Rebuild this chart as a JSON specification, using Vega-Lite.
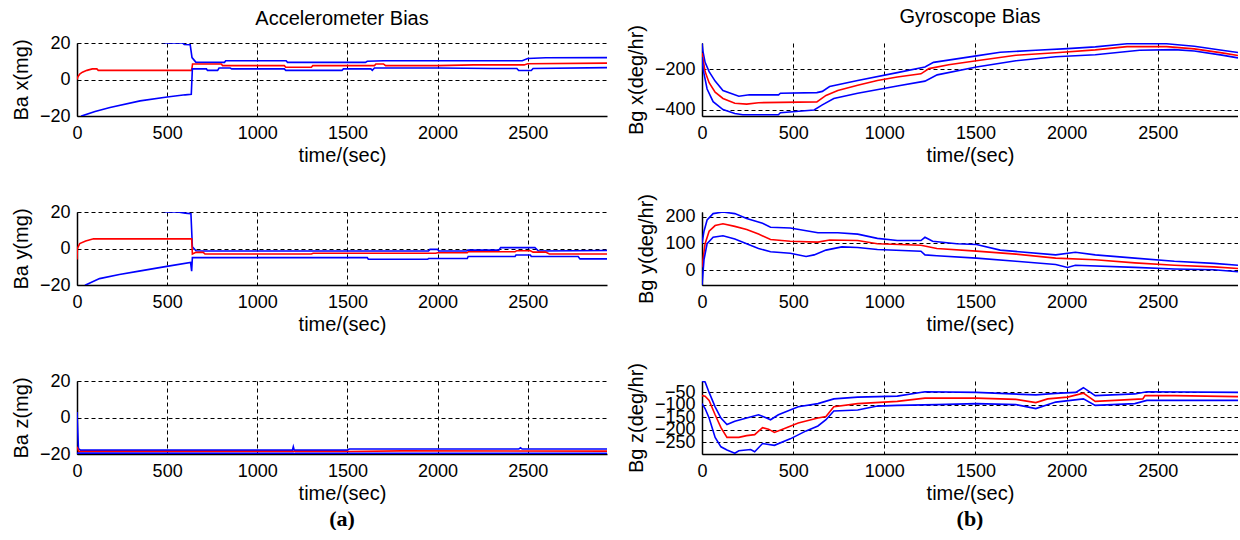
{
  "$schema": "https://vega.github.io/schema/vega-lite/v6.json",
  "background": "white",
  "padding": {"left": 11, "top": 7, "right": 0, "bottom": 0},
  "columns": 2,
  "bounds": "flush",
  "spacing": {"row": 96, "column": 95},
  "config": {
    "view": {"stroke": null},
    "font": "Liberation Sans",
    "title": {"font": "Liberation Sans", "fontSize": 20, "fontWeight": "normal", "color": "#000", "anchor": "middle"},
    "axis": {
      "labelFont": "Liberation Sans", "labelFontSize": 18, "labelColor": "#000",
      "titleFont": "Liberation Sans", "titleFontSize": 20, "titleFontWeight": "normal", "titleColor": "#000",
      "grid": true, "gridColor": "#000", "gridDash": [4, 3], "gridWidth": 1, "gridOpacity": 1,
      "domainColor": "#000", "domainWidth": 1.5, "ticks": false, "format": "d",
      "labelOverlap": false, "labelBound": false, "labelFlush": false
    },
    "axisX": {"labelPadding": 8, "titlePadding": 3},
    "axisY": {"labelPadding": 7, "titlePadding": 8}
  },
  "concat": [
    {
      "width": 530, "height": 73,
      "title": {"text": "Accelerometer Bias", "anchor": "middle", "offset": 5},
      "data": {"values": [
        {"s":"u","t":0,"v":42},{"s":"u","t":30,"v":31},{"s":"u","t":180,"v":26},{"s":"u","t":350,"v":22},{"s":"u","t":500,"v":20},{"s":"u","t":585,"v":20},{"s":"u","t":595,"v":19.2},{"s":"u","t":628,"v":19},{"s":"u","t":638,"v":12},{"s":"u","t":660,"v":9.4},{"s":"u","t":818,"v":9.4},{"s":"u","t":825,"v":10.3},{"s":"u","t":1160,"v":10.3},{"s":"u","t":1168,"v":9.4},{"s":"u","t":1600,"v":9.4},{"s":"u","t":1610,"v":10},{"s":"u","t":1700,"v":10.3},{"s":"u","t":2470,"v":10.3},{"s":"u","t":2500,"v":11.5},{"s":"u","t":2600,"v":11.9},{"s":"u","t":2940,"v":12},
        {"s":"e","t":0,"v":0},{"s":"e","t":5,"v":1.5},{"s":"e","t":15,"v":3},{"s":"e","t":30,"v":4},{"s":"e","t":55,"v":5},{"s":"e","t":85,"v":5.8},{"s":"e","t":110,"v":5.8},{"s":"e","t":118,"v":5},{"s":"e","t":636,"v":5},{"s":"e","t":641,"v":8.5},{"s":"e","t":800,"v":8.5},{"s":"e","t":808,"v":7.6},{"s":"e","t":1150,"v":7.6},{"s":"e","t":1158,"v":6.7},{"s":"e","t":1300,"v":6.7},{"s":"e","t":1308,"v":7.6},{"s":"e","t":1650,"v":7.6},{"s":"e","t":1658,"v":8.5},{"s":"e","t":1700,"v":8.5},{"s":"e","t":1712,"v":7.6},{"s":"e","t":2000,"v":7.6},{"s":"e","t":2200,"v":8},{"s":"e","t":2480,"v":8},{"s":"e","t":2500,"v":8.6},{"s":"e","t":2940,"v":9},
        {"s":"l","t":0,"v":-24},{"s":"l","t":26,"v":-20},{"s":"l","t":100,"v":-17.5},{"s":"l","t":183,"v":-15.3},{"s":"l","t":350,"v":-11.7},{"s":"l","t":500,"v":-9.6},{"s":"l","t":600,"v":-8.4},{"s":"l","t":634,"v":-8.1},{"s":"l","t":640,"v":5.8},{"s":"l","t":718,"v":5.8},{"s":"l","t":724,"v":5},{"s":"l","t":780,"v":5},{"s":"l","t":788,"v":6.3},{"s":"l","t":850,"v":6.3},{"s":"l","t":858,"v":5.8},{"s":"l","t":1150,"v":5.8},{"s":"l","t":1158,"v":5},{"s":"l","t":1470,"v":5},{"s":"l","t":1478,"v":5.8},{"s":"l","t":1630,"v":5.8},{"s":"l","t":1638,"v":5},{"s":"l","t":1650,"v":6.3},{"s":"l","t":2000,"v":6.3},{"s":"l","t":2300,"v":6},{"s":"l","t":2440,"v":6},{"s":"l","t":2450,"v":4.9},{"s":"l","t":2520,"v":4.9},{"s":"l","t":2530,"v":6},{"s":"l","t":2940,"v":6.5}
      ]},
      "mark": {"type": "line", "strokeWidth": 1.6, "clip": true},
      "encoding": {
        "x": {"field": "t", "type": "quantitative", "scale": {"domain": [0, 2940], "nice": false, "zero": false}, "axis": {"values": [0, 500, 1000, 1500, 2000, 2500], "title": "time/(sec)"}},
        "y": {"field": "v", "type": "quantitative", "scale": {"domain": [-20, 20], "nice": false, "zero": false}, "axis": {"values": [-20, 0, 20], "title": "Ba x(mg)"}},
        "color": {"field": "s", "type": "nominal", "scale": {"domain": ["u", "e", "l"], "range": ["#0000ff", "#ff0000", "#0000ff"]}, "legend": null}
      }
    },
    {
      "width": 536, "height": 73,
      "title": {"text": "Gyroscope Bias", "anchor": "middle", "offset": -3},
      "data": {"values": [
        {"s":"u","t":0,"v":-72},{"s":"u","t":5,"v":-110},{"s":"u","t":17,"v":-166},{"s":"u","t":39,"v":-212},{"s":"u","t":72,"v":-259},{"s":"u","t":115,"v":-306},{"s":"u","t":202,"v":-334},{"s":"u","t":260,"v":-327},{"s":"u","t":420,"v":-327},{"s":"u","t":430,"v":-319},{"s":"u","t":630,"v":-316},{"s":"u","t":660,"v":-310},{"s":"u","t":700,"v":-286},{"s":"u","t":854,"v":-256},{"s":"u","t":1071,"v":-217},{"s":"u","t":1223,"v":-189},{"s":"u","t":1270,"v":-166},{"s":"u","t":1505,"v":-134},{"s":"u","t":1636,"v":-116},{"s":"u","t":1831,"v":-106},{"s":"u","t":2005,"v":-98},{"s":"u","t":2157,"v":-89},{"s":"u","t":2331,"v":-74},{"s":"u","t":2548,"v":-74},{"s":"u","t":2700,"v":-86},{"s":"u","t":2852,"v":-106},{"s":"u","t":2940,"v":-117},
        {"s":"e","t":0,"v":-120},{"s":"e","t":17,"v":-212},{"s":"e","t":39,"v":-267},{"s":"e","t":72,"v":-314},{"s":"e","t":115,"v":-345},{"s":"e","t":180,"v":-369},{"s":"e","t":245,"v":-373},{"s":"e","t":310,"v":-366},{"s":"e","t":630,"v":-362},{"s":"e","t":680,"v":-330},{"s":"e","t":745,"v":-306},{"s":"e","t":854,"v":-280},{"s":"e","t":962,"v":-256},{"s":"e","t":1071,"v":-239},{"s":"e","t":1201,"v":-223},{"s":"e","t":1245,"v":-197},{"s":"e","t":1353,"v":-178},{"s":"e","t":1505,"v":-158},{"s":"e","t":1722,"v":-131},{"s":"e","t":1940,"v":-118},{"s":"e","t":2157,"v":-104},{"s":"e","t":2331,"v":-88},{"s":"e","t":2548,"v":-88},{"s":"e","t":2700,"v":-99},{"s":"e","t":2852,"v":-119},{"s":"e","t":2940,"v":-132},
        {"s":"l","t":0,"v":-140},{"s":"l","t":7,"v":-205},{"s":"l","t":28,"v":-298},{"s":"l","t":61,"v":-361},{"s":"l","t":115,"v":-400},{"s":"l","t":180,"v":-420},{"s":"l","t":224,"v":-426},{"s":"l","t":419,"v":-426},{"s":"l","t":430,"v":-416},{"s":"l","t":615,"v":-402},{"s":"l","t":660,"v":-377},{"s":"l","t":723,"v":-345},{"s":"l","t":854,"v":-319},{"s":"l","t":1071,"v":-283},{"s":"l","t":1223,"v":-259},{"s":"l","t":1290,"v":-228},{"s":"l","t":1505,"v":-189},{"s":"l","t":1722,"v":-158},{"s":"l","t":1940,"v":-138},{"s":"l","t":2157,"v":-128},{"s":"l","t":2400,"v":-106},{"s":"l","t":2591,"v":-103},{"s":"l","t":2700,"v":-110},{"s":"l","t":2852,"v":-130},{"s":"l","t":2940,"v":-144}
      ]},
      "mark": {"type": "line", "strokeWidth": 1.6, "clip": true},
      "encoding": {
        "x": {"field": "t", "type": "quantitative", "scale": {"domain": [0, 2940], "nice": false, "zero": false}, "axis": {"values": [0, 500, 1000, 1500, 2000, 2500], "title": "time/(sec)"}},
        "y": {"field": "v", "type": "quantitative", "scale": {"domain": [-432, -70], "nice": false, "zero": false}, "axis": {"values": [-400, -200], "title": "Bg x(deg/hr)"}},
        "color": {"field": "s", "type": "nominal", "scale": {"domain": ["u", "e", "l"], "range": ["#0000ff", "#ff0000", "#0000ff"]}, "legend": null}
      }
    },
    {
      "width": 530, "height": 73,
      "data": {"values": [
        {"s":"u","t":0,"v":40},{"s":"u","t":100,"v":28},{"s":"u","t":300,"v":23},{"s":"u","t":500,"v":20},{"s":"u","t":560,"v":20},{"s":"u","t":600,"v":19.4},{"s":"u","t":632,"v":19},{"s":"u","t":640,"v":1},{"s":"u","t":660,"v":-1.2},{"s":"u","t":700,"v":-1.4},{"s":"u","t":1950,"v":-1.4},{"s":"u","t":1958,"v":-0.5},{"s":"u","t":2000,"v":-0.5},{"s":"u","t":2008,"v":-1.4},{"s":"u","t":2160,"v":-1.4},{"s":"u","t":2168,"v":-0.9},{"s":"u","t":2340,"v":-0.9},{"s":"u","t":2350,"v":0.5},{"s":"u","t":2540,"v":0.5},{"s":"u","t":2560,"v":-1.4},{"s":"u","t":2940,"v":-1.1},
        {"s":"e","t":0,"v":-6},{"s":"e","t":2,"v":0},{"s":"e","t":15,"v":2.7},{"s":"e","t":48,"v":4.1},{"s":"e","t":92,"v":5.3},{"s":"e","t":636,"v":5.3},{"s":"e","t":640,"v":-3},{"s":"e","t":660,"v":-2.1},{"s":"e","t":700,"v":-2.1},{"s":"e","t":710,"v":-3},{"s":"e","t":1300,"v":-3},{"s":"e","t":1310,"v":-2.6},{"s":"e","t":1990,"v":-2.6},{"s":"e","t":2000,"v":-2.3},{"s":"e","t":2165,"v":-2.3},{"s":"e","t":2170,"v":-1.8},{"s":"e","t":2430,"v":-1.8},{"s":"e","t":2440,"v":-1.2},{"s":"e","t":2515,"v":-1.2},{"s":"e","t":2530,"v":-2},{"s":"e","t":2600,"v":-2},{"s":"e","t":2620,"v":-3},{"s":"e","t":2940,"v":-3},
        {"s":"l","t":0,"v":-24},{"s":"l","t":48,"v":-20},{"s":"l","t":125,"v":-16.5},{"s":"l","t":235,"v":-14.2},{"s":"l","t":344,"v":-12.4},{"s":"l","t":498,"v":-9.8},{"s":"l","t":630,"v":-7.6},{"s":"l","t":636,"v":-12.4},{"s":"l","t":640,"v":-5},{"s":"l","t":1610,"v":-5},{"s":"l","t":1616,"v":-5.9},{"s":"l","t":1945,"v":-5.9},{"s":"l","t":1950,"v":-5.5},{"s":"l","t":2165,"v":-5.5},{"s":"l","t":2170,"v":-4.4},{"s":"l","t":2430,"v":-4.4},{"s":"l","t":2435,"v":-3.6},{"s":"l","t":2515,"v":-3.6},{"s":"l","t":2520,"v":-4.4},{"s":"l","t":2780,"v":-4.4},{"s":"l","t":2790,"v":-5.7},{"s":"l","t":2940,"v":-5.7}
      ]},
      "mark": {"type": "line", "strokeWidth": 1.6, "clip": true},
      "encoding": {
        "x": {"field": "t", "type": "quantitative", "scale": {"domain": [0, 2940], "nice": false, "zero": false}, "axis": {"values": [0, 500, 1000, 1500, 2000, 2500], "title": "time/(sec)"}},
        "y": {"field": "v", "type": "quantitative", "scale": {"domain": [-20, 20], "nice": false, "zero": false}, "axis": {"values": [-20, 0, 20], "title": "Ba y(mg)"}},
        "color": {"field": "s", "type": "nominal", "scale": {"domain": ["u", "e", "l"], "range": ["#0000ff", "#ff0000", "#0000ff"]}, "legend": null}
      }
    },
    {
      "width": 536, "height": 73,
      "data": {"values": [
        {"s":"u","t":0,"v":100},{"s":"u","t":11,"v":146},{"s":"u","t":28,"v":188},{"s":"u","t":61,"v":212},{"s":"u","t":115,"v":218},{"s":"u","t":180,"v":212},{"s":"u","t":245,"v":194},{"s":"u","t":332,"v":176},{"s":"u","t":376,"v":161},{"s":"u","t":484,"v":158},{"s":"u","t":636,"v":140},{"s":"u","t":745,"v":140},{"s":"u","t":854,"v":135},{"s":"u","t":962,"v":119},{"s":"u","t":1071,"v":111},{"s":"u","t":1201,"v":111},{"s":"u","t":1223,"v":123},{"s":"u","t":1265,"v":108},{"s":"u","t":1397,"v":99},{"s":"u","t":1505,"v":96},{"s":"u","t":1636,"v":75},{"s":"u","t":1940,"v":57},{"s":"u","t":2048,"v":67},{"s":"u","t":2157,"v":57},{"s":"u","t":2374,"v":45},{"s":"u","t":2591,"v":33},{"s":"u","t":2808,"v":25},{"s":"u","t":2940,"v":18},
        {"s":"e","t":0,"v":10},{"s":"e","t":17,"v":99},{"s":"e","t":39,"v":146},{"s":"e","t":72,"v":167},{"s":"e","t":115,"v":174},{"s":"e","t":180,"v":164},{"s":"e","t":245,"v":152},{"s":"e","t":310,"v":135},{"s":"e","t":376,"v":115},{"s":"e","t":484,"v":108},{"s":"e","t":636,"v":105},{"s":"e","t":700,"v":113},{"s":"e","t":854,"v":111},{"s":"e","t":962,"v":99},{"s":"e","t":1201,"v":93},{"s":"e","t":1288,"v":81},{"s":"e","t":1505,"v":71},{"s":"e","t":1722,"v":60},{"s":"e","t":1940,"v":45},{"s":"e","t":2157,"v":39},{"s":"e","t":2374,"v":27},{"s":"e","t":2591,"v":18},{"s":"e","t":2808,"v":12},{"s":"e","t":2940,"v":6},
        {"s":"l","t":0,"v":-56},{"s":"l","t":11,"v":39},{"s":"l","t":28,"v":99},{"s":"l","t":61,"v":123},{"s":"l","t":115,"v":129},{"s":"l","t":180,"v":117},{"s":"l","t":245,"v":99},{"s":"l","t":310,"v":81},{"s":"l","t":376,"v":69},{"s":"l","t":484,"v":63},{"s":"l","t":571,"v":51},{"s":"l","t":615,"v":57},{"s":"l","t":680,"v":75},{"s":"l","t":767,"v":87},{"s":"l","t":854,"v":85},{"s":"l","t":962,"v":77},{"s":"l","t":1201,"v":71},{"s":"l","t":1223,"v":57},{"s":"l","t":1288,"v":54},{"s":"l","t":1505,"v":45},{"s":"l","t":1722,"v":33},{"s":"l","t":1940,"v":21},{"s":"l","t":2005,"v":10},{"s":"l","t":2048,"v":18},{"s":"l","t":2374,"v":10},{"s":"l","t":2591,"v":4},{"s":"l","t":2808,"v":1},{"s":"l","t":2940,"v":-6}
      ]},
      "mark": {"type": "line", "strokeWidth": 1.6, "clip": true},
      "encoding": {
        "x": {"field": "t", "type": "quantitative", "scale": {"domain": [0, 2940], "nice": false, "zero": false}, "axis": {"values": [0, 500, 1000, 1500, 2000, 2500], "title": "time/(sec)"}},
        "y": {"field": "v", "type": "quantitative", "scale": {"domain": [-56, 218], "nice": false, "zero": false}, "axis": {"values": [0, 100, 200], "title": "Bg y(deg/hr)"}},
        "color": {"field": "s", "type": "nominal", "scale": {"domain": ["u", "e", "l"], "range": ["#0000ff", "#ff0000", "#0000ff"]}, "legend": null}
      }
    },
    {
      "width": 530, "height": 73,
      "title": {"text": "(a)", "orient": "bottom", "anchor": "middle", "font": "Liberation Serif", "fontWeight": "bold", "fontSize": 22, "offset": 6},
      "data": {"values": [
        {"s":"u","t":0,"v":3},{"s":"u","t":8,"v":-17},{"s":"u","t":20,"v":-17.9},{"s":"u","t":1195,"v":-17.9},{"s":"u","t":1200,"v":-16},{"s":"u","t":1205,"v":-17.9},{"s":"u","t":1500,"v":-17.9},{"s":"u","t":1510,"v":-17.3},{"s":"u","t":2450,"v":-17.3},{"s":"u","t":2460,"v":-16.6},{"s":"u","t":2470,"v":-17.3},{"s":"u","t":2940,"v":-17.3},
        {"s":"e","t":0,"v":-16},{"s":"e","t":10,"v":-18.6},{"s":"e","t":1500,"v":-18.6},{"s":"e","t":1800,"v":-18.3},{"s":"e","t":2940,"v":-18.4},
        {"s":"l","t":0,"v":-19.5},{"s":"l","t":1200,"v":-19.6},{"s":"l","t":1205,"v":-20.5},{"s":"l","t":1210,"v":-19.6},{"s":"l","t":2940,"v":-19.6}
      ]},
      "mark": {"type": "line", "strokeWidth": 1.6, "clip": true},
      "encoding": {
        "x": {"field": "t", "type": "quantitative", "scale": {"domain": [0, 2940], "nice": false, "zero": false}, "axis": {"values": [0, 500, 1000, 1500, 2000, 2500], "title": "time/(sec)"}},
        "y": {"field": "v", "type": "quantitative", "scale": {"domain": [-20, 20], "nice": false, "zero": false}, "axis": {"values": [-20, 0, 20], "title": "Ba z(mg)"}},
        "color": {"field": "s", "type": "nominal", "scale": {"domain": ["u", "e", "l"], "range": ["#0000ff", "#ff0000", "#0000ff"]}, "legend": null}
      }
    },
    {
      "width": 536, "height": 73,
      "title": {"text": "(b)", "orient": "bottom", "anchor": "middle", "font": "Liberation Serif", "fontWeight": "bold", "fontSize": 22, "offset": 6},
      "data": {"values": [
        {"s":"u","t":0,"v":-5},{"s":"u","t":17,"v":-8},{"s":"u","t":39,"v":-50},{"s":"u","t":72,"v":-108},{"s":"u","t":104,"v":-153},{"s":"u","t":137,"v":-179},{"s":"u","t":180,"v":-166},{"s":"u","t":245,"v":-153},{"s":"u","t":310,"v":-140},{"s":"u","t":354,"v":-153},{"s":"u","t":376,"v":-160},{"s":"u","t":419,"v":-140},{"s":"u","t":528,"v":-108},{"s":"u","t":636,"v":-95},{"s":"u","t":723,"v":-76},{"s":"u","t":854,"v":-69},{"s":"u","t":1071,"v":-65},{"s":"u","t":1223,"v":-47},{"s":"u","t":1505,"v":-50},{"s":"u","t":1831,"v":-60},{"s":"u","t":1940,"v":-54},{"s":"u","t":2050,"v":-50},{"s":"u","t":2092,"v":-31},{"s":"u","t":2157,"v":-63},{"s":"u","t":2374,"v":-56},{"s":"u","t":2440,"v":-47},{"s":"u","t":2940,"v":-50},
        {"s":"e","t":0,"v":-63},{"s":"e","t":17,"v":-65},{"s":"e","t":39,"v":-82},{"s":"e","t":72,"v":-140},{"s":"e","t":104,"v":-192},{"s":"e","t":137,"v":-231},{"s":"e","t":202,"v":-231},{"s":"e","t":245,"v":-224},{"s":"e","t":289,"v":-220},{"s":"e","t":332,"v":-192},{"s":"e","t":365,"v":-198},{"s":"e","t":397,"v":-211},{"s":"e","t":463,"v":-192},{"s":"e","t":528,"v":-173},{"s":"e","t":636,"v":-153},{"s":"e","t":680,"v":-147},{"s":"e","t":723,"v":-108},{"s":"e","t":854,"v":-95},{"s":"e","t":1071,"v":-86},{"s":"e","t":1223,"v":-73},{"s":"e","t":1505,"v":-73},{"s":"e","t":1722,"v":-78},{"s":"e","t":1831,"v":-91},{"s":"e","t":1896,"v":-76},{"s":"e","t":2005,"v":-69},{"s":"e","t":2092,"v":-53},{"s":"e","t":2157,"v":-86},{"s":"e","t":2265,"v":-82},{"s":"e","t":2418,"v":-76},{"s":"e","t":2430,"v":-63},{"s":"e","t":2591,"v":-63},{"s":"e","t":2940,"v":-67},
        {"s":"l","t":0,"v":-95},{"s":"l","t":17,"v":-115},{"s":"l","t":39,"v":-153},{"s":"l","t":72,"v":-231},{"s":"l","t":104,"v":-269},{"s":"l","t":137,"v":-282},{"s":"l","t":180,"v":-295},{"s":"l","t":202,"v":-285},{"s":"l","t":267,"v":-280},{"s":"l","t":289,"v":-289},{"s":"l","t":332,"v":-256},{"s":"l","t":397,"v":-263},{"s":"l","t":484,"v":-237},{"s":"l","t":571,"v":-205},{"s":"l","t":636,"v":-185},{"s":"l","t":680,"v":-160},{"s":"l","t":723,"v":-125},{"s":"l","t":854,"v":-121},{"s":"l","t":962,"v":-105},{"s":"l","t":1071,"v":-102},{"s":"l","t":1288,"v":-99},{"s":"l","t":1505,"v":-95},{"s":"l","t":1722,"v":-99},{"s":"l","t":1831,"v":-115},{"s":"l","t":1940,"v":-89},{"s":"l","t":2092,"v":-76},{"s":"l","t":2157,"v":-102},{"s":"l","t":2374,"v":-95},{"s":"l","t":2440,"v":-82},{"s":"l","t":2940,"v":-82}
      ]},
      "mark": {"type": "line", "strokeWidth": 1.6, "clip": true},
      "encoding": {
        "x": {"field": "t", "type": "quantitative", "scale": {"domain": [0, 2940], "nice": false, "zero": false}, "axis": {"values": [0, 500, 1000, 1500, 2000, 2500], "title": "time/(sec)"}},
        "y": {"field": "v", "type": "quantitative", "scale": {"domain": [-298, -4], "nice": false, "zero": false}, "axis": {"values": [-250, -200, -150, -100, -50], "title": "Bg z(deg/hr)"}},
        "color": {"field": "s", "type": "nominal", "scale": {"domain": ["u", "e", "l"], "range": ["#0000ff", "#ff0000", "#0000ff"]}, "legend": null}
      }
    }
  ]
}
